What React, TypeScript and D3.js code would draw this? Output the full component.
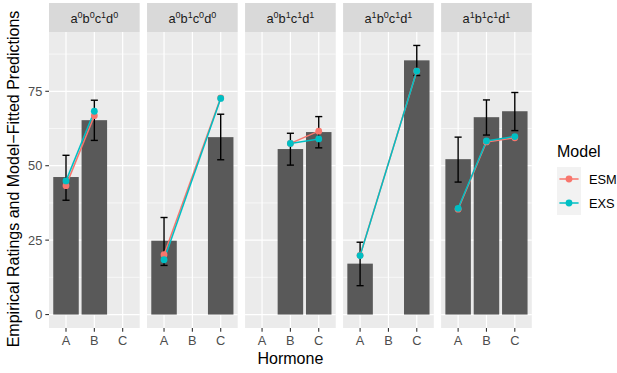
import { useEffect, useRef } from "react"
import * as d3 from "d3"

const conditions = ["a0b0c1d0", "a0b1c0d0", "a0b1c1d1", "a1b0c1d1", "a1b1c1d1"]
const hormones = ["A", "B", "C"]

// per condition, per hormone (A, B, C); null = not shown
const barMeans: (number | null)[][] = [
  [46.2, 65.3, null],
  [24.8, null, 59.6],
  [null, 55.6, 61.3],
  [17.1, null, 85.4],
  [52.2, 66.3, 68.3],
]
const errLow: (number | null)[][] = [
  [38.4, 58.5, null],
  [16.5, null, 52.0],
  [null, 50.2, 56.0],
  [9.7, null, 80.3],
  [44.5, 60.3, 61.8],
]
const errHigh: (number | null)[][] = [
  [53.5, 72.0, null],
  [32.6, null, 67.3],
  [null, 60.9, 66.5],
  [24.3, null, 90.4],
  [59.6, 72.1, 74.6],
]
const esm: (number | null)[][] = [
  [43.3, 66.8, null],
  [20.1, null, 72.8],
  [null, 57.5, 61.6],
  [19.9, null, 81.8],
  [35.4, 58.0, 59.4],
]
const exs: (number | null)[][] = [
  [44.9, 68.3, null],
  [18.4, null, 72.6],
  [null, 57.5, 59.0],
  [19.8, null, 81.8],
  [35.7, 58.3, 59.8],
]
const models = ["ESM", "EXS"]
const yTicks = [0, 25, 50, 75]
const yMinor = [12.5, 37.5, 62.5, 87.5]

const FONT = "'Liberation Sans', Arial, Helvetica, sans-serif"
const SMALL = 12.8
const BIG = 16

export default function App() {
  const svgRef = useRef<SVGSVGElement>(null)

  useEffect(() => {
    if (!svgRef.current) return
    const width = 617
    const height = 373
    const svg = d3.select(svgRef.current)
    svg.selectAll("*").remove()

    const panelTop = 32
    const panelBottom = 328
    const stripTop = 3

    const fx = d3.scaleBand().domain(conditions).range([49, 531.8]).paddingInner(0.075)
    const pw = fx.bandwidth()
    const x = d3.scalePoint().domain(hormones).range([0, pw]).padding(0.6)
    const step = x.step()
    const y = d3.scaleLinear().domain([-4.52, 94.92]).range([panelBottom, panelTop])
    const color = d3.scaleOrdinal<string>().domain(models).range(["#F8766D", "#00BFC4"])

    svg.append("rect").attr("width", width).attr("height", height).attr("fill", "white")

    conditions.forEach((cond, ci) => {
      const g = svg.append("g").attr("transform", `translate(${fx(cond)},0)`)

      // strip
      g.append("rect")
        .attr("x", 0).attr("y", stripTop)
        .attr("width", pw).attr("height", panelTop - stripTop)
        .attr("fill", "#D9D9D9")
      const st = g.append("text")
        .attr("x", pw / 2).attr("y", 23)
        .attr("text-anchor", "middle")
        .attr("font-family", FONT).attr("font-size", SMALL)
        .attr("fill", "#1A1A1A")
      const parts = cond.match(/[a-z]\d/g) || []
      parts.forEach((p, i) => {
        st.append("tspan").attr("dy", i === 0 ? 0 : 5).text(p[0])
        st.append("tspan").attr("font-size", 9).attr("dy", -5).text(p[1])
      })

      // panel background
      g.append("rect")
        .attr("x", 0).attr("y", panelTop)
        .attr("width", pw).attr("height", panelBottom - panelTop)
        .attr("fill", "#EBEBEB")

      yMinor.forEach((t) => {
        g.append("line").attr("x1", 0).attr("x2", pw)
          .attr("y1", y(t)).attr("y2", y(t))
          .attr("stroke", "white").attr("stroke-width", 0.6)
      })
      yTicks.forEach((t) => {
        g.append("line").attr("x1", 0).attr("x2", pw)
          .attr("y1", y(t)).attr("y2", y(t))
          .attr("stroke", "white").attr("stroke-width", 1.2)
      })
      hormones.forEach((h) => {
        g.append("line").attr("x1", x(h)!).attr("x2", x(h)!)
          .attr("y1", panelTop).attr("y2", panelBottom)
          .attr("stroke", "white").attr("stroke-width", 1.2)
      })

      // bars
      const bw = step * 0.9
      hormones.forEach((h, hi) => {
        const v = barMeans[ci][hi]
        if (v == null) return
        g.append("rect")
          .attr("x", x(h)! - bw / 2).attr("y", y(v))
          .attr("width", bw).attr("height", y(0) - y(v))
          .attr("fill", "#595959")
      })

      // error bars
      const ew = step * 0.25
      hormones.forEach((h, hi) => {
        const lo = errLow[ci][hi]
        const hiV = errHigh[ci][hi]
        if (lo == null || hiV == null) return
        const cx = x(h)!
        const eg = g.append("g").attr("stroke", "black").attr("stroke-width", 1.4)
        eg.append("line").attr("x1", cx).attr("x2", cx).attr("y1", y(lo)).attr("y2", y(hiV))
        eg.append("line").attr("x1", cx - ew / 2).attr("x2", cx + ew / 2).attr("y1", y(lo)).attr("y2", y(lo))
        eg.append("line").attr("x1", cx - ew / 2).attr("x2", cx + ew / 2).attr("y1", y(hiV)).attr("y2", y(hiV))
      })

      // model lines and points
      const series = [esm[ci], exs[ci]]
      const line = d3.line<{ h: string; v: number }>().x((d) => x(d.h)!).y((d) => y(d.v))
      const pts = series.map((s) =>
        hormones.map((h, hi) => ({ h, v: s[hi] })).filter((d) => d.v != null) as { h: string; v: number }[],
      )
      pts.forEach((p, mi) => {
        g.append("path").attr("d", line(p)).attr("fill", "none")
          .attr("stroke", color(models[mi])).attr("stroke-width", 1.5)
      })
      pts.forEach((p, mi) => {
        g.selectAll(null).data(p).enter().append("circle")
          .attr("cx", (d) => x(d.h)!).attr("cy", (d) => y(d.v))
          .attr("r", 3.4).attr("fill", color(models[mi]))
      })

      // x axis
      hormones.forEach((h) => {
        g.append("line").attr("x1", x(h)!).attr("x2", x(h)!)
          .attr("y1", panelBottom).attr("y2", panelBottom + 3.7)
          .attr("stroke", "#333333").attr("stroke-width", 1.1)
        g.append("text").attr("x", x(h)!).attr("y", 345)
          .attr("text-anchor", "middle")
          .attr("font-family", FONT).attr("font-size", SMALL)
          .attr("fill", "#4D4D4D").text(h)
      })
    })

    // y axis
    yTicks.forEach((t) => {
      svg.append("line").attr("x1", 45.3).attr("x2", 49)
        .attr("y1", y(t)).attr("y2", y(t))
        .attr("stroke", "#333333").attr("stroke-width", 1.1)
      svg.append("text").attr("x", 42.3).attr("y", y(t)).attr("dy", "0.36em")
        .attr("text-anchor", "end")
        .attr("font-family", FONT).attr("font-size", SMALL)
        .attr("fill", "#4D4D4D").text(t)
    })

    svg.append("text")
      .attr("x", 290.4).attr("y", 364)
      .attr("text-anchor", "middle")
      .attr("font-family", FONT).attr("font-size", BIG)
      .attr("fill", "black").text("Hormone")

    svg.append("text")
      .attr("transform", `translate(18.5,${(panelTop + panelBottom) / 2 - 1}) rotate(-90)`)
      .attr("text-anchor", "middle")
      .attr("font-family", FONT).attr("font-size", BIG)
      .attr("fill", "black").text("Empirical Ratings and Model\u2212Fitted Predictions")

    // legend
    const lg = svg.append("g").attr("transform", "translate(557,0)")
    lg.append("text").attr("x", 0).attr("y", 157)
      .attr("font-family", FONT).attr("font-size", BIG)
      .attr("fill", "black").text("Model")
    models.forEach((m, i) => {
      const ky = 167 + i * 24
      lg.append("rect").attr("x", 0).attr("y", ky).attr("width", 24).attr("height", 24).attr("fill", "#F2F2F2")
      lg.append("line").attr("x1", 2.4).attr("x2", 21.6)
        .attr("y1", ky + 12).attr("y2", ky + 12)
        .attr("stroke", color(m)).attr("stroke-width", 1.5)
      lg.append("circle").attr("cx", 12).attr("cy", ky + 12).attr("r", 3.4).attr("fill", color(m))
      lg.append("text").attr("x", 32).attr("y", ky + 12).attr("dy", "0.36em")
        .attr("font-family", FONT).attr("font-size", SMALL)
        .attr("fill", "black").text(m)
    })
  }, [])

  return (
    <svg
      ref={svgRef}
      width={617}
      height={373}
      style={{ position: "absolute", left: 0, top: 0, display: "block" }}
    />
  )
}
